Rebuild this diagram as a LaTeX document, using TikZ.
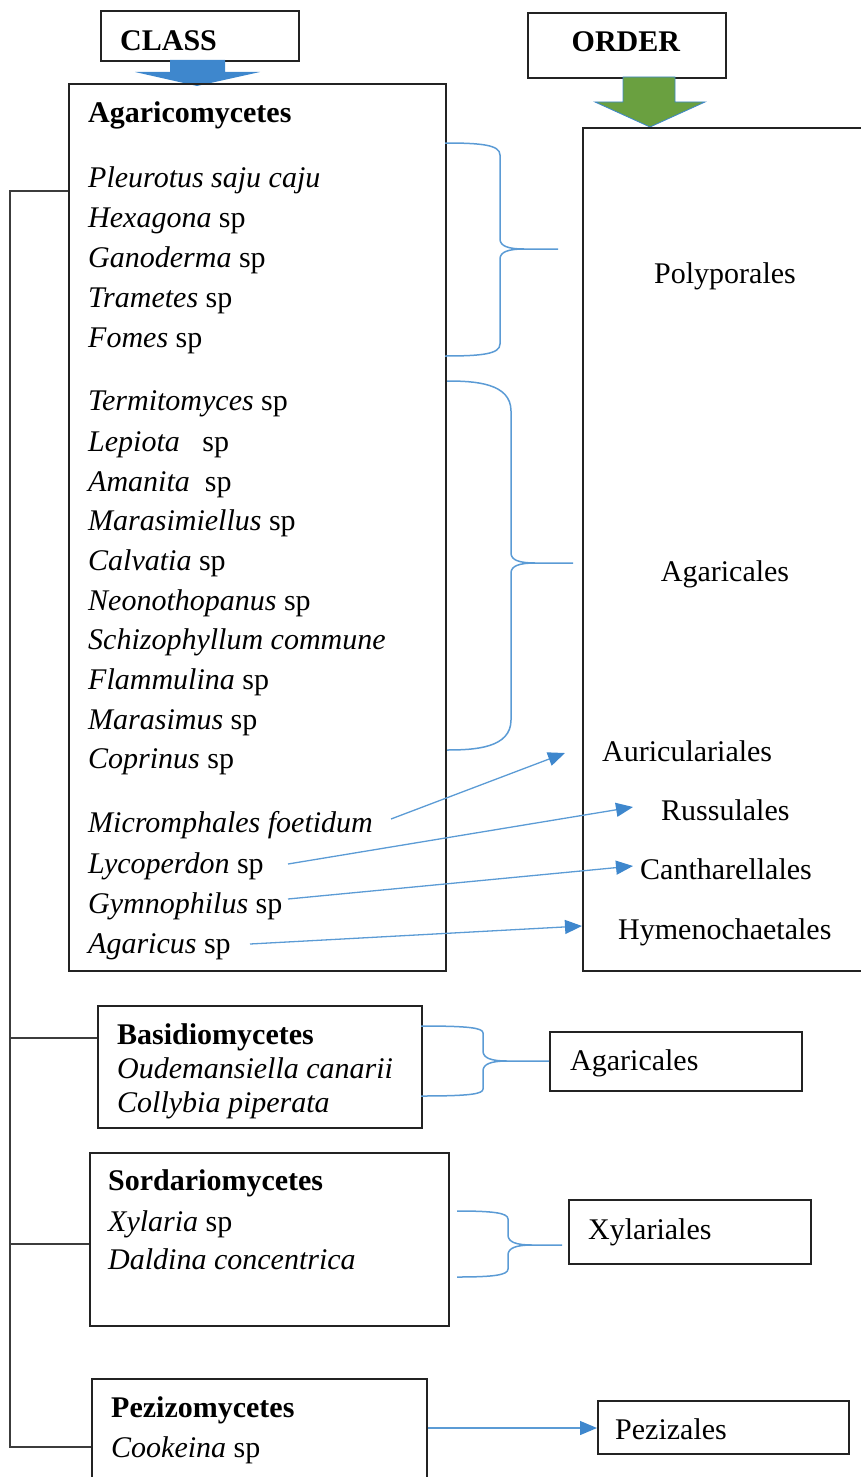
\documentclass[tikz,border=0pt]{standalone}
\usepackage{fontspec}
\setmainfont{Liberation Serif}
\usetikzlibrary{arrows.meta}
\definecolor{lnblue}{RGB}{91,155,213}
\definecolor{arrblue}{RGB}{62,135,205}
\definecolor{arrgreen}{RGB}{106,160,64}
\definecolor{frame}{RGB}{35,35,35}
\definecolor{treegray}{RGB}{60,60,60}
\newcommand{\bracepath}[7]{% x0 xm xt ytop ymid ybot radius
  \draw[brace] (#1,#4) .. controls ({#2-#7-6},#4) and (#2,{#4+2}) .. (#2,{#4+#7})
    -- (#2,{#5-10}) .. controls (#2,{#5-3}) and ({#2+8},#5) .. ({#2+24},#5) -- (#3,#5);
  \draw[brace] ({#2+24},#5) .. controls ({#2+8},#5) and (#2,{#5+3}) .. (#2,{#5+10})
    -- (#2,{#6-#7}) .. controls (#2,{#6-2}) and ({#2-#7-6},#6) .. (#1,#6);
}
\begin{document}
\begin{tikzpicture}[x=1pt,y=-1pt,
  boxn/.style={draw=frame,line width=2pt,anchor=north west,inner sep=0pt},
  txt/.style={anchor=west,inner sep=0pt,yshift=-8pt,font=\fontsize{30}{34}\selectfont,text height=0.7em,text depth=0.25em},
  ctxt/.style={txt,anchor=center},
  brace/.style={draw=lnblue,line width=1.5pt},
  arr/.style={draw=lnblue,line width=1.3pt,-{Triangle[length=17pt,width=14pt,color=arrblue]}},
  tree/.style={draw=treegray,line width=1.5pt}]
\useasboundingbox (0,0) rectangle (860,1477);

% header boxes
\node[boxn,minimum width=198,minimum height=50] (classbox) at (100,10) {};
\node[txt] (classlbl) at (120,40) {\textbf{CLASS}};
\node[boxn,minimum width=198,minimum height=65] (orderbox) at (527,12) {};
\node[ctxt] (orderlbl) at (626,41) {\textbf{ORDER}};

% block arrows
\fill[arrblue] (170,60) -- (225,60) -- (225,72) -- (260,72) -- (197,86) -- (135,72) -- (170,72) -- cycle;
\filldraw[fill=arrgreen,draw=arrblue,line width=0.8pt] (623,77) -- (675,77) -- (675,102) -- (705,102) -- (650,127) -- (595,102) -- (623,102) -- cycle;

% main boxes
\node[boxn,minimum width=377,minimum height=887] (agbox) at (68,83) {};
\node[boxn,minimum width=300,minimum height=843] (ordbig) at (582,127) {};

% Agaricomycetes content
\node[txt] (agtitle) at (88,112) {\textbf{Agaricomycetes}};
\node[txt] (s1) at (88,177) {\textit{Pleurotus saju caju}};
\node[txt] (s2) at (88,217) {\textit{Hexagona} sp};
\node[txt] (s3) at (88,257) {\textit{Ganoderma} sp};
\node[txt] (s4) at (88,297) {\textit{Trametes} sp};
\node[txt] (s5) at (88,337) {\textit{Fomes} sp};
\node[txt] (s6) at (88,400) {\textit{Termitomyces} sp};
\node[txt] (s7) at (88,441) {\textit{Lepiota}\ \ \ sp};
\node[txt] (s8) at (88,481) {\textit{Amanita}\ \ sp};
\node[txt] (s9) at (88,520) {\textit{Marasimiellus} sp};
\node[txt] (s10) at (88,560) {\textit{Calvatia} sp};
\node[txt] (s11) at (88,600) {\textit{Neonothopanus} sp};
\node[txt] (s12) at (88,639) {\textit{Schizophyllum commune}};
\node[txt] (s13) at (88,679) {\textit{Flammulina} sp};
\node[txt] (s14) at (88,719) {\textit{Marasimus} sp};
\node[txt] (s15) at (88,758) {\textit{Coprinus} sp};
\node[txt] (s16) at (88,822) {\textit{Micromphales foetidum}};
\node[txt] (s17) at (88,863) {\textit{Lycoperdon} sp};
\node[txt] (s18) at (88,903) {\textit{Gymnophilus} sp};
\node[txt] (s19) at (88,943) {\textit{Agaricus} sp};

% order labels
\node[ctxt] (o1) at (725,273) {Polyporales};
\node[ctxt] (o2) at (725,571) {Agaricales};
\node[txt] (o3) at (602,751) {Auriculariales};
\node[txt] (o4) at (661,810) {Russulales};
\node[txt] (o5) at (640,869) {Cantharellales};
\node[txt] (o6) at (618,929) {Hymenochaetales};

% braces
\bracepath{445}{500}{558}{143}{249}{356}{12}
\bracepath{447}{511}{573}{381}{563}{750}{30}

% arrows
\coordinate (a1) at (391,819); \coordinate (b1) at (565,753);
\coordinate (a2) at (288,864); \coordinate (b2) at (633,807);
\coordinate (a3) at (288,899); \coordinate (b3) at (633,866);
\coordinate (a4) at (250,944); \coordinate (b4) at (582,926);
\draw[arr] (a1) -- (b1);
\draw[arr] (a2) -- (b2);
\draw[arr] (a3) -- (b3);
\draw[arr] (a4) -- (b4);

% Basidiomycetes
\node[boxn,minimum width=324,minimum height=122] (basbox) at (97,1005) {};
\node[txt] (bt) at (117,1034) {\textbf{Basidiomycetes}};
\node[txt] (b1s) at (117,1068) {\textit{Oudemansiella canarii}};
\node[txt] (b2s) at (117,1102) {\textit{Collybia piperata}};
\node[boxn,minimum width=252,minimum height=59] (agar2) at (549,1031) {};
\node[txt] (agar2l) at (570,1060) {Agaricales};
\bracepath{421}{483}{549}{1026}{1061}{1096}{7}

% Sordariomycetes
\node[boxn,minimum width=359,minimum height=173] (sordbox) at (89,1152) {};
\node[txt] (st) at (108,1180) {\textbf{Sordariomycetes}};
\node[txt] (s1s) at (108,1221) {\textit{Xylaria} sp};
\node[txt] (s2s) at (108,1259) {\textit{Daldina concentrica}};
\node[boxn,minimum width=242,minimum height=64] (xylbox) at (568,1199) {};
\node[txt] (xyll) at (588,1229) {Xylariales};
\bracepath{457}{508}{562}{1211}{1245}{1277}{8}

% Pezizomycetes
\node[boxn,minimum width=335,minimum height=130] (pezbox) at (91,1378) {};
\node[txt] (pt) at (111,1407) {\textbf{Pezizomycetes}};
\node[txt] (p1s) at (111,1447) {\textit{Cookeina} sp};
\node[boxn,minimum width=251,minimum height=53] (pezord) at (597,1400) {};
\node[txt] (pezl) at (615,1429) {Pezizales};
\coordinate (pa) at (428,1428);
\draw[arr] (pa) -- (pezord.west |- pa);

% tree line
\draw[tree] (agbox.west |- 0,191) -| (10,1447) -- (pezbox.west |- 0,1447);
\draw[tree] (10,1038) -- (basbox.west |- 0,1038);
\draw[tree] (10,1244) -- (sordbox.west |- 0,1244);
\end{tikzpicture}
\end{document}
